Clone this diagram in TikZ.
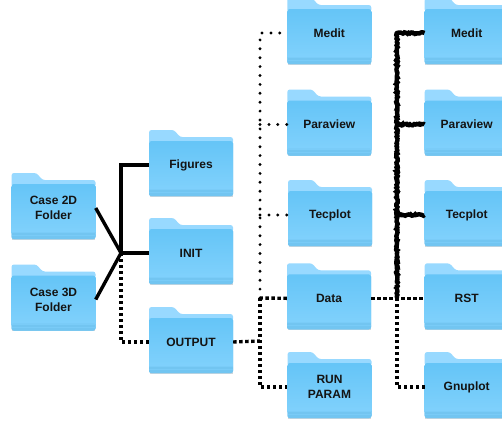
\documentclass[tikz,border=0pt]{standalone}
\usepackage{fontspec}
\setmainfont{Liberation Sans}
\usetikzlibrary{decorations.pathmorphing}
\definecolor{ftab}{HTML}{98D9FF}
\definecolor{fback}{HTML}{84D2FC}
\definecolor{ftop}{HTML}{66C5F7}
\definecolor{fbot}{HTML}{80D1FC}
\definecolor{fband}{HTML}{72C5F1}
\definecolor{fshadow}{HTML}{D0D7DC}
\tikzset{
  flabel/.style={minimum width=84pt,minimum height=62pt,inner sep=0pt,align=center,
    font=\fontsize{12}{15}\selectfont\bfseries,text=black!92},
  solidlink/.style={line width=3.4pt,black,line join=miter},
  squaredots/.style={line width=3.4pt,black,dash pattern=on 3.4pt off 2.6pt},
  finedots/.style={line width=3.2pt,black,line cap=round,dash pattern=on 0pt off 8.9pt},
  roughlink/.style={line width=4.4pt,black,decorate,decoration={random steps,segment length=1.3pt,amplitude=0.8pt}},
}
% #1 name, #2 left x, #3 tab top y, #4 text
\newcommand{\folder}[4]{%
  \begin{scope}[shift={(#2,#3)}]
    \fill[fshadow] (0.5,12) rectangle (83.5,66.8);
    \fill[ftab,rounded corners=2.5pt] (0,14) -- (0,0) -- (25,0) -- (31,7) -- (84,7) -- (84,14) -- cycle;
    \fill[ftop,rounded corners=2.5pt] (0,11) rectangle (84,66);
    \shade[top color=ftop,bottom color=fbot] (0,13) rectangle (84,60.5);
    \fill[fband,rounded corners=2pt] (0,59) -- (84,59) -- (84,66) -- (0,66) -- cycle;
    \fill[fbot!60!fband] (0,59) rectangle (84,60);
    \fill[fbot!50!fband] (0,62) rectangle (84,62.6);
    \node[flabel] (#1) at (42,35) {#4};
  \end{scope}}
\begin{document}
\begin{tikzpicture}[x=1pt,y=-1pt]
\useasboundingbox (0,0) rectangle (502,423);
\fill[white] (0,0) rectangle (502,423);
\folder{caseA}{11.5}{173}{Case 2D\\Folder}
\folder{caseB}{11.5}{264.5}{Case 3D\\Folder}
\folder{figures}{149}{130}{Figures}
\folder{init}{149}{218}{INIT}
\folder{output}{149}{307}{OUTPUT}
\folder{meditA}{287.3}{-2}{Medit}
\folder{paraA}{287.3}{89.5}{Paraview}
\folder{tecA}{288}{180}{Tecplot}
\folder{data}{287}{263.3}{Data}
\folder{run}{287.5}{352}{RUN\\PARAM}
\folder{meditB}{424.7}{-2}{Medit}
\folder{paraB}{424.7}{89.5}{Paraview}
\folder{tecB}{424.7}{180}{Tecplot}
\folder{rst}{424.7}{263.3}{RST}
\folder{gnu}{424.7}{352}{Gnuplot}
% junctions
\coordinate (j1) at (121,253);
\coordinate (j2) at (260,341);
\coordinate (j2d) at (260,298);
\coordinate (j3) at (397,298);
% left fan
\draw[solidlink] (caseA.east) -- (j1);
\draw[solidlink] (caseB.east) -- (j1);
\draw[solidlink] (figures.west) -| (j1);
\draw[solidlink] (j1) -- (init.west);
\draw[squaredots] (j1) |- (output.west);
% middle
\draw[squaredots] (output.east) -- (j2);
\draw[squaredots] (data.west) -- (j2d);
\draw[squaredots] (j2d) |- (run.west);
\draw[finedots] (j2d) |- (meditA.west);
\draw[finedots] (j2d |- paraA.west) -- (paraA.west);
\draw[finedots] (j2d |- tecA.west) -- (tecA.west);
% right
\draw[squaredots] (data.east) -- (rst.west);
\draw[squaredots] (j3) |- (gnu.west);
\draw[roughlink] (j3) -- (j3 |- meditB.west) -- (meditB.west);
\draw[roughlink] (j3 |- paraB.west) -- (paraB.west);
\draw[roughlink] (j3 |- tecB.west) -- (tecB.west);
\end{tikzpicture}
\end{document}
